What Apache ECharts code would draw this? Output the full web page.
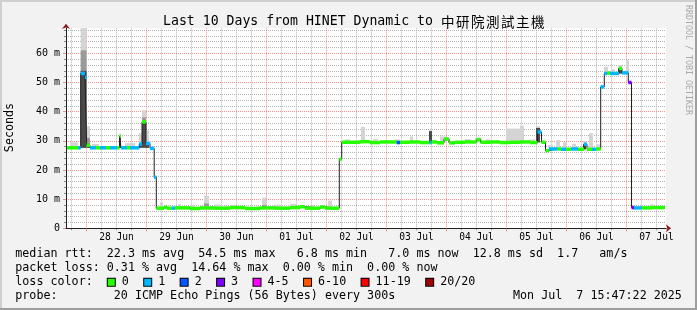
<!DOCTYPE html>
<html><head><meta charset="utf-8">
<script src="https://cdn.jsdelivr.net/npm/echarts@6/dist/echarts.min.js"></script>
<style>html,body{margin:0;padding:0;background:#f2f2f2}#c{width:697px;height:310px}</style>
</head><body><div id="c"></div>
<script>
// ===== DATA (time in hours after 2025-06-27 00:00) =====
const tStart = 15.78, tEnd = 255.78, medEnd = 255.38;
const medT = [
  15.78, 20.58, 21.66, 23.38, 24.06, 25.38, 27.78, 29.38, 31.78, 33.38,
  36.18, 37.18, 37.78, 40.18, 41.38, 45.10, 46.18, 47.78, 49.38, 51.06,
  51.90, 54.98, 56.18, 58.06, 59.38, 65.38, 69.38, 74.98, 81.38, 87.38,
  93.38, 99.38, 105.38, 109.38, 111.38, 117.38, 119.38, 125.10, 126.06, 133.38,
  137.38, 141.38, 148.06, 149.38, 153.38, 157.38, 161.18, 162.06, 164.18, 166.98,
  168.98, 171.38, 175.38, 180.06, 181.58, 185.38, 189.38, 193.38, 197.38, 201.38,
  204.38, 205.98, 207.58, 208.98, 212.38, 213.78, 215.78, 217.78, 220.58, 222.98,
  224.18, 226.18, 227.78, 229.66, 231.10, 232.38, 233.38, 236.98, 238.18, 240.70,
  241.98, 242.98, 246.06, 250.18
];
const medV = [ // median rtt, ms
  27.6, 27.6, 53.1, 51.8, 28.5, 27.6, 27.6, 27.6, 27.6, 27.6,
  27.6, 31.6, 27.6, 27.6, 27.6, 28.9, 36.5, 29.1, 27.4, 17.5,
  6.9, 7.2, 6.9, 6.9, 7.0, 6.8, 7.0, 6.9, 7.1, 6.8,
  7.0, 6.9, 7.1, 7.4, 6.9, 7.3, 6.9, 23.7, 29.5, 29.7,
  29.4, 29.6, 29.4, 29.5, 29.6, 29.4, 29.4, 29.6, 29.3, 30.6,
  29.3, 29.5, 29.6, 30.4, 29.5, 29.6, 29.4, 29.5, 29.6, 29.4,
  33.0, 29.5, 26.6, 27.2, 27.2, 27.1, 27.1, 27.2, 27.1, 28.8,
  27.1, 27.1, 27.2, 48.5, 53.1, 53.2, 53.1, 54.8, 53.3, 50.0,
  7.1, 7.0, 7.0, 7.1
];
const medLoss = [ // lost pings of 20
  0,1,1,1,0,1,0,1,0,1,
  0,0,1,0,1,1,0,1,1,1,
  0,0,0,1,0,0,0,0,0,0,
  0,0,0,0,0,0,0,0,0,0,
  0,0,2,0,0,0,1,0,0,0,
  0,0,0,0,0,0,0,0,0,0,
  1,0,0,1,0,1,0,1,0,1,
  0,1,0,1,1,0,1,0,1,3,
  3,1,0,0
];
// smoke (ping spread): start, end, bottom, dense top, mid top, max
const smokeT0 = [17.38,21.66,23.98,26.18,37.18,39.38,44.98,46.18,47.78,53.38,60.58,65.38,70.98,75.38,81.38,94.18,99.38,105.38,113.38,120.58,127.38,133.78,138.58,147.38,153.38,160.98,165.38,175.38,179.38,183.38,191.78,197.38,201.38,203.78,208.58,211.78,214.58,218.18,222.58,224.98,227.78,230.98,234.18,236.58,239.78,245.58,249.58];
const smokeT1 = [20.58,23.98,25.38,28.98,37.78,43.38,46.18,47.78,48.98,54.58,61.78,67.38,72.98,77.38,83.78,95.78,101.38,107.78,114.98,122.18,129.38,135.38,140.58,149.38,154.58,162.18,168.18,177.38,182.18,185.38,197.38,198.98,203.38,205.38,210.58,213.38,215.78,219.78,223.78,226.58,229.38,232.58,235.38,238.18,240.98,246.78,250.78];
const smokeBot = [27.6,27.6,27.6,27.6,27.6,27.6,27.6,27.6,27.6,6.9,6.9,6.9,6.9,6.9,6.9,6.9,6.9,6.9,6.9,6.9,29.5,29.5,29.5,29.5,29.5,29.5,29.5,29.5,29.5,29.5,29.5,29.5,29.5,29.5,27.1,27.1,27.1,27.1,27.1,27.1,27.1,53.1,53.1,53.1,53.1,7.0,7.0];
const smokeDark = [27.6,54,29,27.6,31.6,27.6,28.9,36.5,29.1,6.9,6.9,6.9,6.9,6.9,6.9,6.9,6.9,6.9,6.9,6.9,29.5,29.5,29.5,29.5,29.5,33.3,29.5,29.5,29.5,29.5,29.5,29.5,29.5,34.4,27.1,27.1,27.1,27.1,28.8,27.1,27.1,53.1,53.1,54.8,53.1,7.0,7.0];
const smokeMid = [27.6,61,31,27.6,31.6,27.6,28.9,38,29.1,6.9,6.9,6.9,8.5,6.9,6.9,8.0,6.9,6.9,6.9,6.9,29.5,29.5,29.5,29.5,29.5,33.3,29.5,29.5,29.5,29.5,29.5,29.5,29.5,34.4,27.1,27.1,27.1,27.1,28.8,27.1,27.1,53.1,53.1,54.8,53.1,7.0,7.0];
const smokeTop = [29.5,68.6,35,28.9,32.5,29.2,32.6,40.5,33.5,8.9,8.3,8.0,11.1,8.2,8.0,10.5,8.1,8.4,8.0,9.5,30.5,34.8,30.5,30.5,31.5,33.5,31.5,30.6,31.0,30.5,34.2,35.2,30.5,35.0,28.5,30.2,29.5,29.0,30.0,32.6,28.8,55.4,54.5,56.0,57.7,7.8,8.3];

const xLabelHours = [36, 60, 84, 108, 132, 156, 180, 204, 228, 252];
const xLabels = ['28 Jun','29 Jun','30 Jun','01 Jul','02 Jul','03 Jul','04 Jul','05 Jul','06 Jul','07 Jul'];
const yLabelValues = [0, 10, 20, 30, 40, 50, 60];
const yMax = 68.57;

const lossLevels = ['0','1','2','3','4-5','6-10','11-19','20/20'];
const lossColors = ['#26ff00','#00b8ff','#0059ff','#7e00ff','#ff00ff','#ff5500','#ff0000','#a00000'];
const rttStats = ['22.3','54.5','6.8','7.0','12.8','1.7'];
const lossStats = ['0.31','14.64','0.00','0.00'];
const titleLatin = 'Last 10 Days from HINET Dynamic to ';
const titleCJK = '中研院測試主機';
const probeText = 'probe:        20 ICMP Echo Pings (56 Bytes) every 300s';
const dateText = 'Mon Jul  7 15:47:22 2025';

// ===== helpers =====
function lossClass(n){ if(n<=3) return n; if(n<=5) return 4; if(n<=10) return 5; if(n<=19) return 6; return 7; }
const xMajor = [], xMinor = [], yMinor = [];
for (let h = 6; h < tEnd; h += 6) { if (h < tStart) continue; if (h % 24 === 0) xMajor.push(h); else xMinor.push(h); }
for (let v = 2; v < yMax; v += 2) { if (v % 10 !== 0) yMinor.push(v); }

const lineData = medT.map((t,i)=>[t, medV[i]]); lineData.push([medEnd, medV[medV.length-1]]);
const bandData = medT.map((t,i)=>[t, i+1<medT.length?medT[i+1]:medEnd, medV[i], lossClass(medLoss[i])]);
const smokeData = smokeT0.map((t,i)=>[t, smokeT1[i], smokeBot[i], smokeDark[i], smokeMid[i], smokeTop[i]]);

const MONO = '"DejaVu Sans Mono", monospace';
const FS = 11.7;
const line1 = `median rtt:  ${rttStats[0]} ms avg  ${rttStats[1]} ms max  ${rttStats[2].padStart(4)} ms min  ${rttStats[3].padStart(4)} ms now  ${rttStats[4]} ms sd  ${rttStats[5]}   am/s`;
const line2 = `packet loss: ${lossStats[0]} % avg  ${lossStats[1]} % max  ${lossStats[2]} % min  ${lossStats[3]} % now`;
const rich = { s1:{width:1}, g:{width:7}, sp:{width:15.4} };
let line3 = 'loss color:  ';
lossLevels.forEach((lv,i)=>{
  rich['b'+i] = {width:7, height:7, backgroundColor:lossColors[i], borderColor:'#000', borderWidth:1, verticalAlign:'middle'};
  line3 += (i===0?'{s1| }':'{sp| }') + '{b'+i+'| }{g| }' + lv;
});
const titleRich = {a:{font:'13.2px '+MONO, fill:'#000', verticalAlign:'middle'}, c:{font:'13.5px "Noto Sans CJK TC"', fill:'#000', width:15, align:'left', verticalAlign:'middle'}};
const titleText = '{a|'+titleLatin+'}' + Array.from(titleCJK).map(ch=>'{c|'+ch+'}').join('');

const chart = echarts.init(document.getElementById('c'), null, {renderer:'canvas'});
const gridCol = '#b4b4b4', majCol = 'rgba(240,110,110,0.75)';
const splitAxis = (vals, col, tick) => ({type:'value', position:undefined, z:1,
  axisLine:{show:false}, axisLabel:{show:false},
  axisTick:{show:!!tick, length:2, customValues:vals, lineStyle:{color:tick||'#999'}},
  splitLine:{show:true, lineStyle:{color:col, type:[1,1], width:1}}});
chart.setOption({
  animation:false,
  backgroundColor:'#f2f2f2',
  grid:{z:0, left:66, right:31, top:28.3, height:200, show:true, backgroundColor:'#ffffff', borderWidth:0},
  xAxis:[
    {type:'value', position:'bottom', min:tStart, max:tEnd, z:6,
     axisLine:{show:true, lineStyle:{color:'#202020', width:1}},
     axisTick:{show:true, length:3, customValues:xMajor, lineStyle:{color:majCol}},
     axisLabel:{customValues:xLabelHours, margin:4, color:'#000', fontFamily:MONO, fontSize:9.6,
       formatter:(v)=>xLabels[xLabelHours.indexOf(Math.round(v))] || ''},
     splitLine:{show:false}},
    Object.assign(splitAxis(xMinor, gridCol, '#999'), {position:'bottom', min:tStart, max:tEnd}),
    Object.assign(splitAxis(xMajor, majCol, null), {position:'bottom', min:tStart, max:tEnd}),
    {type:'value', position:'bottom', min:tStart, max:tEnd, z:5,
     axisLine:{show:true, symbol:['none','arrow'], symbolSize:[6,5], symbolOffset:[0,5], lineStyle:{color:'#8b1a1a'}},
     axisLabel:{show:false}, axisTick:{show:false}, splitLine:{show:false}}
  ],
  yAxis:[
    {type:'value', position:'left', min:0, max:yMax, z:6,
     axisLine:{show:true, lineStyle:{color:'#202020', width:1}},
     axisTick:{show:true, length:3, customValues:yLabelValues, lineStyle:{color:majCol}},
     axisLabel:{customValues:yLabelValues, margin:6, color:'#000', fontFamily:MONO, fontSize:10,
       formatter:(v)=> v===0 ? '0' : (Math.round(v)+' m')},
     splitLine:{show:false}},
    Object.assign(splitAxis(yMinor, gridCol, '#888'), {position:'left', min:0, max:yMax}),
    Object.assign(splitAxis(yLabelValues, majCol, null), {position:'left', min:0, max:yMax}),
    {type:'value', position:'left', min:0, max:yMax, z:5,
     axisLine:{show:true, symbol:['none','arrow'], symbolSize:[6,5], symbolOffset:[0,4.5], lineStyle:{color:'#8b1a1a'}},
     axisLabel:{show:false}, axisTick:{show:false}, splitLine:{show:false}}
  ],
  series:[
    {type:'custom', name:'smoke', z:2, silent:true, data:smokeData, encode:{x:[0,1], y:[2,5]},
     renderItem:(params, api)=>{
       const t0=api.value(0), t1=api.value(1), bot=api.value(2);
       const layers=[[api.value(5),'#d4d4d4'],[api.value(4),'#9a9a9a'],[api.value(3),'#4a4a4a']];
       const children=[];
       layers.forEach(([top,col])=>{
         if(top<=bot) return;
         const a=api.coord([t0,top]), b=api.coord([t1,bot]);
         children.push({type:'rect', shape:{x:a[0], y:a[1], width:b[0]-a[0], height:b[1]-a[1]}, style:{fill:col}});
       });
       return {type:'group', children};
     }},
    {type:'line', name:'median', z:3, silent:true, data:lineData, step:'end', symbol:'none',
     lineStyle:{color:'#202020', width:1}},
    {type:'custom', name:'loss', z:4, silent:true, data:bandData, encode:{x:[0,1], y:2},
     renderItem:(params, api)=>{
       const a=api.coord([api.value(0), api.value(2)]), b=api.coord([api.value(1), api.value(2)]);
       return {type:'rect', shape:{x:a[0], y:a[1]-1.75, width:b[0]-a[0], height:3.5}, style:{fill:lossColors[api.value(3)]}};
     }}
  ],
  graphic:[
    {type:'rect', shape:{x:0,y:0,width:697,height:2}, style:{fill:'#cfcfcf'}, silent:true},
    {type:'rect', shape:{x:0,y:0,width:2,height:310}, style:{fill:'#cfcfcf'}, silent:true},
    {type:'rect', shape:{x:0,y:308,width:697,height:2}, style:{fill:'#9e9e9e'}, silent:true},
    {type:'rect', shape:{x:695,y:0,width:2,height:310}, style:{fill:'#9e9e9e'}, silent:true},
    {type:'text', x:163, y:22, silent:true, style:{text:titleText, verticalAlign:'middle', rich:titleRich}},
    {type:'text', x:10, y:127.5, rotation:Math.PI/2, silent:true, style:{text:'Seconds', font:FS+'px '+MONO, fill:'#000', align:'center', verticalAlign:'middle'}},
    {type:'text', x:688, y:60, rotation:-Math.PI/2, silent:true, style:{text:'RRDTOOL / TOBI OETIKER', font:'8.3px '+MONO, fill:'#a8a8a8', align:'center', verticalAlign:'middle'}},
    {type:'text', x:15.3, y:254.3, silent:true, style:{text:line1, font:FS+'px '+MONO, fill:'#000', verticalAlign:'middle'}},
    {type:'text', x:15.3, y:268.3, silent:true, style:{text:line2, font:FS+'px '+MONO, fill:'#000', verticalAlign:'middle'}},
    {type:'text', x:15.3, y:282.3, silent:true, style:{text:line3, font:FS+'px '+MONO, fill:'#000', verticalAlign:'middle', rich:rich}},
    {type:'text', x:15.3, y:296, silent:true, style:{text:probeText, font:FS+'px '+MONO, fill:'#000', verticalAlign:'middle'}},
    {type:'text', x:513, y:296, silent:true, style:{text:dateText, font:FS+'px '+MONO, fill:'#000', verticalAlign:'middle'}}
  ]
});
</script></body></html>
